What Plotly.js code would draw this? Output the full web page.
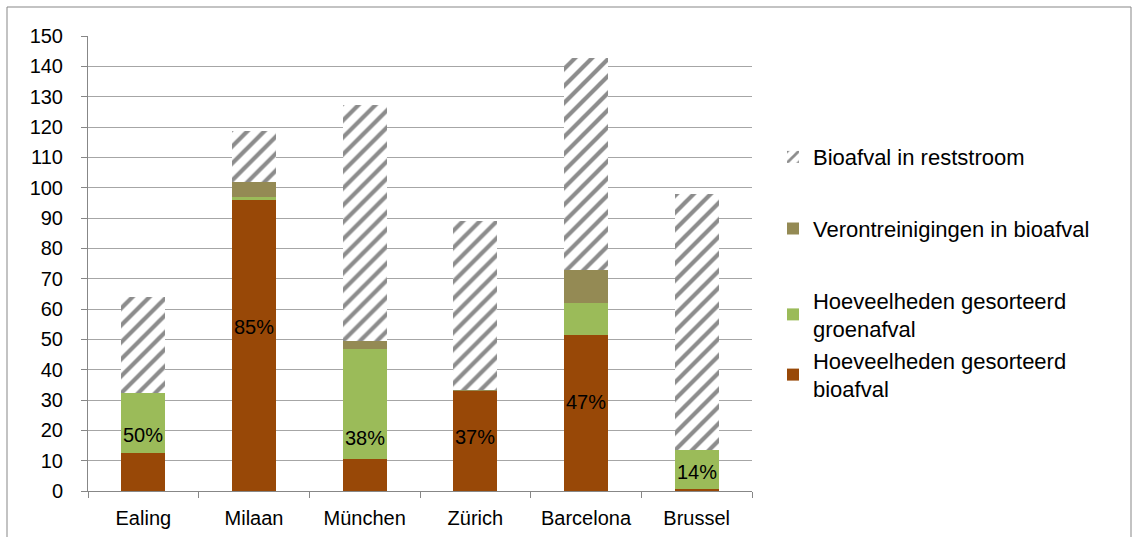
<!DOCTYPE html>
<html>
<head>
<meta charset="utf-8">
<script src="https://cdn.plot.ly/plotly-3.0.1.min.js"></script>
<style>html,body{margin:0;padding:0;background:#fff;}#chart{width:1134px;height:537px;}</style>
</head>
<body>
<div id="chart"></div>
<script>
const categories = ["Ealing", "Milaan", "München", "Zürich", "Barcelona", "Brussel"];
const bioafval = [12.5, 95.9, 10.5, 33.1, 51.3, 0.7];
const groenafval = [19.7, 0.9, 36.2, 0, 10.7, 12.9];
const verontreinigingen = [0, 5.1, 2.9, 0.3, 10.9, 0];
const reststroom = [31.9, 16.9, 77.7, 55.6, 69.8, 84.2];
const pctLabels = ["50%", "85%", "38%", "37%", "47%", "14%"];
const pctLabelY = [18.5, 54, 17.5, 17.9, 29.4, 6.4];
const yTicks = [0,10,20,30,40,50,60,70,80,90,100,110,120,130,140,150];

const fam = "Liberation Sans, Arial, sans-serif";

const traces = [
  {name: "Hoeveelheden gesorteerd<br>bioafval", y: bioafval, color: "#984807", group: "c", rank: 4},
  {name: "Hoeveelheden gesorteerd<br>groenafval", y: groenafval, color: "#9bbb59", group: "c", rank: 3},
  {name: "Verontreinigingen in bioafval", y: verontreinigingen, color: "#948a54", group: "b", rank: 2},
  {name: "Bioafval in reststroom", y: reststroom, color: "#ffffff", group: "a", rank: 1, pattern: true}
].map(t => ({
  type: "bar",
  x: categories,
  y: t.y,
  name: t.name,
  legendgroup: t.group,
  legendrank: t.rank,
  marker: t.pattern ? {
    color: "#ffffff",
    line: {width: 0},
    pattern: {shape: "/", fgcolor: "#8c8c8c", bgcolor: "#ffffff", size: 12, solidity: 0.35}
  } : {color: t.color, line: {width: 0}},
  hoverinfo: "y+name"
}));

const annotations = categories.map((c, i) => ({
  x: c, y: pctLabelY[i], xref: "x", yref: "y",
  text: pctLabels[i], showarrow: false,
  font: {family: fam, size: 20, color: "#000"}
}));

const layout = {
  width: 1134, height: 537,
  margin: {l: 88, r: 382, t: 36, b: 46},
  paper_bgcolor: "#ffffff", plot_bgcolor: "#ffffff",
  barmode: "stack",
  bargap: 0.6,
  font: {family: fam, size: 20, color: "#000"},
  showlegend: true,
  legend: {
    x: 1.0316, xanchor: "left", y: 0.78, yanchor: "top",
    traceorder: "grouped",
    tracegroupgap: 40,
    font: {family: fam, size: 22, color: "#000"},
    itemwidth: 30
  },
  xaxis: {
    type: "category",
    showgrid: false,
    showline: true, linecolor: "#878787", linewidth: 1,
    ticks: "outside", tickson: "boundaries", ticklen: 6, tickcolor: "#878787",
    ticklabelstandoff: 9,
    tickfont: {family: fam, size: 20, color: "#000"},
    zeroline: false
  },
  yaxis: {
    range: [0, 150],
    tickvals: yTicks,
    ticktext: yTicks.map(String),
    showgrid: true, gridcolor: "#a6a6a6", gridwidth: 1,
    showline: true, linecolor: "#878787", linewidth: 1,
    ticks: "outside", ticklen: 6, tickcolor: "#878787",
    ticklabelstandoff: 14,
    tickfont: {family: fam, size: 20, color: "#000"},
    zeroline: false
  },
  annotations: annotations,
  shapes: [{
    type: "rect", xref: "paper", yref: "paper",
    x0: (7 - 88) / 664, x1: (1131 - 88) / 664,
    y0: -0.2, y1: 1 + (36 - 7) / 455,
    line: {color: "#878787", width: 1}, fillcolor: "rgba(0,0,0,0)", layer: "below"
  }]
};

Plotly.newPlot("chart", traces, layout, {displayModeBar: false, staticPlot: true});
</script>
</body>
</html>
